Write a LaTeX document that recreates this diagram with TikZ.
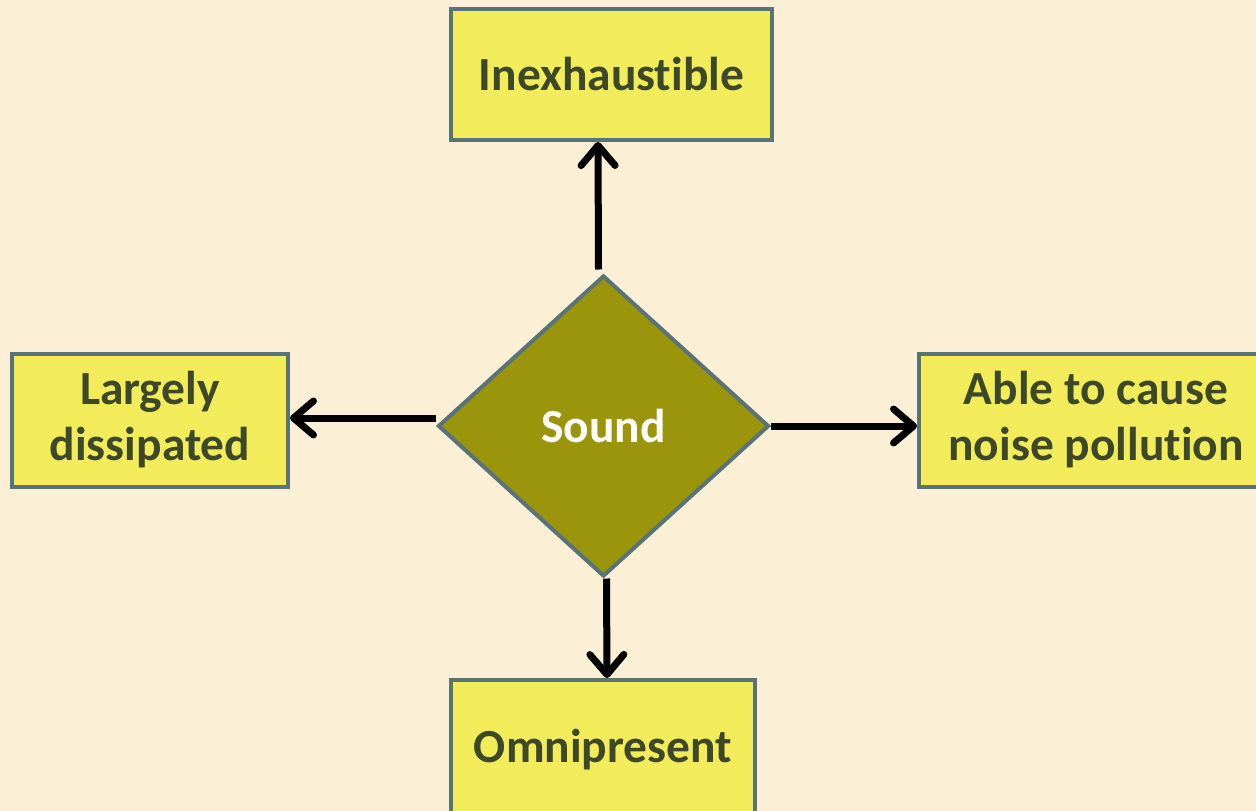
\documentclass[tikz,border=0pt]{standalone}
\usepackage{fontspec}
\setmainfont{Carlito}[Ligatures=CommonOff]
\usetikzlibrary{shapes.geometric,arrows.meta}
\definecolor{paper}{HTML}{FBEFD6}
\definecolor{boxfill}{HTML}{F3EC5A}
\definecolor{edge}{HTML}{587479}
\definecolor{ink}{HTML}{3C4827}
\definecolor{olive}{HTML}{9A950A}
% keep "t" and "i" as separate glyphs
\newcommand{\tisep}{t\kern0pt i}
\tikzset{
  card/.style={draw=edge, line width=4pt, fill=boxfill, text=ink,
    font=\fontsize{47.5}{56}\selectfont\bfseries, align=center, inner sep=0pt},
  hub/.style={diamond, draw=edge, line width=4pt, fill=olive, text=white,
    font=\fontsize{47.5}{56}\selectfont\bfseries, inner sep=0pt,
    minimum width=331pt, minimum height=301pt},
  link/.style={line width=7pt, black,
    -{Straight Barb[length=20pt,width=34pt,round]}}
}
\begin{document}
\begin{tikzpicture}[x=1pt,y=-1pt]
  \clip (0,0) rectangle (1256,811);
  \useasboundingbox (0,0) rectangle (1256,811);
  \fill[paper] (0,0) rectangle (1256,811);

  \node[hub] (dia) at (603.5,426) {Sound};
  \node[card, minimum width=321pt, minimum height=131pt] (top) at (611.5,74.5) {Inexhaus\tisep ble};
  \node[card, minimum width=276pt, minimum height=133pt] (lb) at (150,420) {Largely\\dissipated};
  \node[card, minimum width=354pt, minimum height=133pt] (rb) at (1096,420) {Able to cause\\noise pollu\tisep on};
  \node[card, minimum width=304pt, minimum height=140pt] (bot) at (603,750) {Omnipresent};

  \draw[link] ([xshift=-5pt,yshift=4pt]dia.north) -- ([xshift=-13.5pt]top.south);
  \draw[link] ([yshift=8pt]dia.west) -- ([yshift=8pt]dia.west -| lb.east);
  \draw[link] (dia.east) -- (dia.east -| rb.west);
  \draw[link] ([xshift=3pt]dia.south) -- ([xshift=4pt]bot.north);
\end{tikzpicture}
\end{document}
